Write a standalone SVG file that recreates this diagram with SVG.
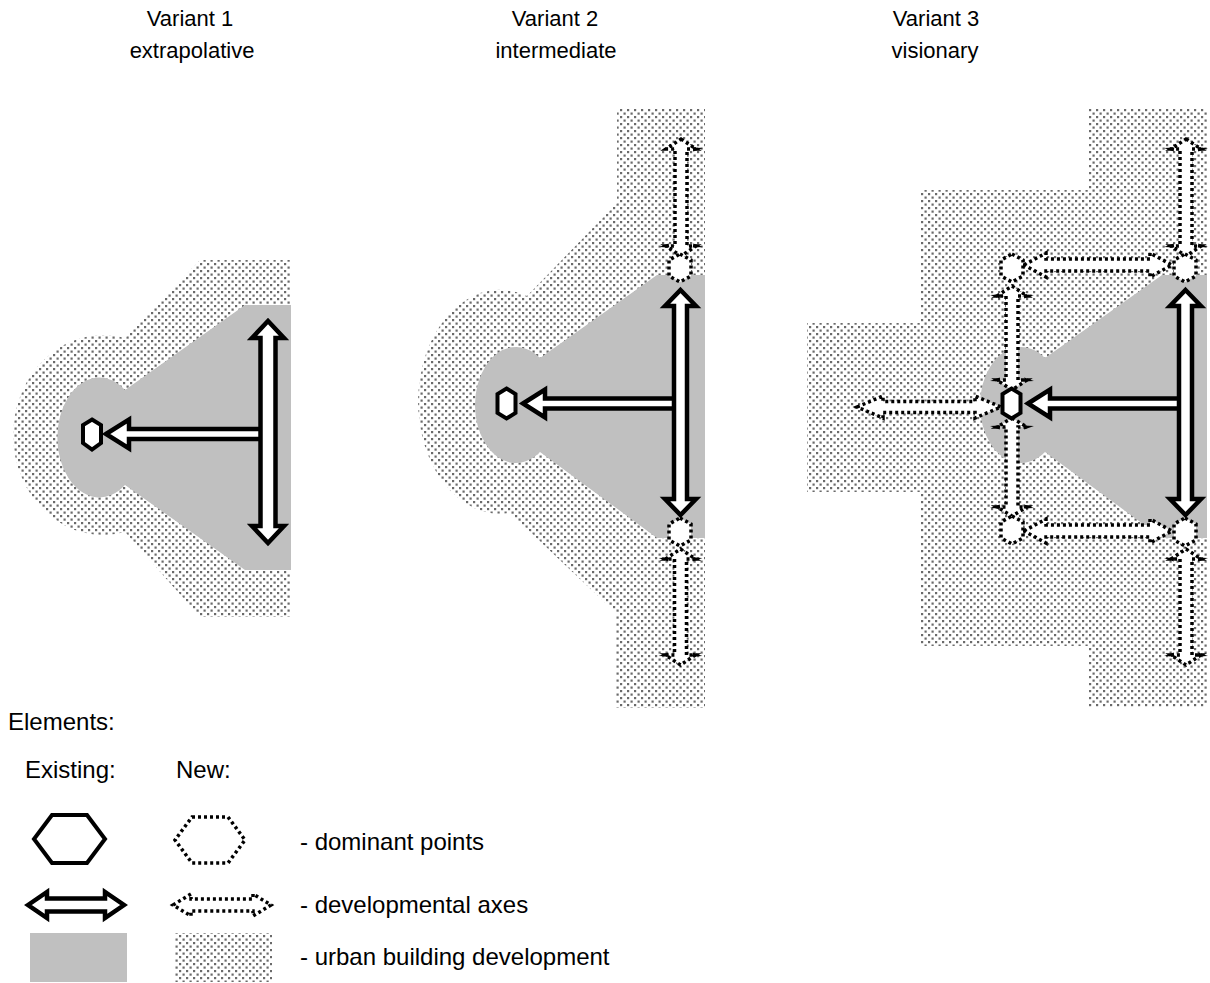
<svg xmlns="http://www.w3.org/2000/svg" xmlns:xlink="http://www.w3.org/1999/xlink" width="1210" height="983" viewBox="0 0 1210 983">
  <style>
    text { font-family: "Liberation Sans", Arial, sans-serif; font-size: 24px; fill: #000; }
    .title { font-size: 22px; text-anchor: middle; }
    .built { fill: #c0c0c0; }
    .planned { fill: url(#stipple); }
    .solid { fill: #fff; stroke: #000; stroke-width: 4.5; stroke-linejoin: miter; stroke-miterlimit: 10; }
    .hex { fill: #fff; stroke: #000; stroke-width: 4; stroke-linejoin: miter; }
    .dotted { fill: #fff; stroke: #000; stroke-width: 3.5; stroke-dasharray: 3 3; }
  </style>
  <defs>
    <!-- fine grey dot screen for planned building areas -->
    <pattern id="stipple" patternUnits="userSpaceOnUse" width="7" height="7">
      <rect x="0.5" y="0.5" width="2.2" height="2.2" fill="#6a6a6a"/>
      <rect x="4" y="4" width="2.2" height="2.2" fill="#6a6a6a"/>
    </pattern>
    <!-- spike at the corner of a dotted arrowhead -->
    <path id="barb" d="M-7,0 L3,-2 L3,2 Z" fill="#000"/>
  </defs>

  <rect width="1210" height="983" fill="#fff"/>

  <!-- headings -->
  <g id="titles">
    <text class="title" x="190" y="26">Variant 1</text>
    <text class="title" x="192" y="58">extrapolative</text>
    <text class="title" x="555" y="26">Variant 2</text>
    <text class="title" x="556" y="58">intermediate</text>
    <text class="title" x="936" y="26">Variant 3</text>
    <text class="title" x="935" y="58">visionary</text>
  </g>

  <!-- building areas -->
  <g id="areas">
    <path id="v1-new-area" class="planned" d="M291,260 L200,260 L125,338 A90,100 0 1 0 125,532 L200,617 L291,617 Z"/>
    <path id="v1-built" class="built" d="M291,305 L245,305 L125,390 A42,60 0 1 0 125,485 L245,570 L291,570 Z"/>
    <path id="v2-new-area" class="planned" d="M617,108 L705,108 L705,708 L616,708 L616,613 L510,513 A82,112 0 1 1 527,296 L617,203 Z"/>
    <path id="v2-built" class="built" d="M705,275 L657,275 L540,358 A41,58 0 1 0 540,452 L657,538 L705,538 Z"/>
    <path id="v3-new-area" class="planned" d="M1088,108 L1207,108 L1207,707 L1088,707 L1088,646 L921,646 L921,492 L807,492 L807,323 L921,323 L921,190 L1088,190 Z"/>
    <path id="v3-built" class="built" d="M1207,275 L1162,275 L1045,358 A41,58 0 1 0 1045,452 L1162,538 L1207,538 Z"/>
  </g>

  <!-- developmental axes -->
  <g id="connectors">
    <!-- new axes (dotted) -->
    <polygon class="dotted" points="681,139 696,149 687,149 687,246 696,246 681,256 666,246 675,246 675,149 666,149"/>
    <polygon class="dotted" points="680.5,549 695.5,559 686.5,559 686.5,655 695.5,655 680.5,665 665.5,655 674.5,655 674.5,559 665.5,559"/>
    <polygon class="dotted" points="1186,139 1201,149 1192,149 1192,246 1201,246 1186,256 1171,246 1180,246 1180,149 1171,149"/>
    <polygon class="dotted" points="1186,549 1201,559 1192,559 1192,655 1201,655 1186,665 1171,655 1180,655 1180,559 1171,559"/>
    <polygon class="dotted" points="1012,286 1027,296 1018,296 1018,380 1027,380 1012,390 997,380 1006,380 1006,296 997,296"/>
    <polygon class="dotted" points="1012,418 1027,427 1018,427 1018,507 1027,507 1012,516 997,507 1006,507 1006,427 997,427"/>
    <polygon class="dotted" points="1024,265 1046,253 1046,259 1150,259 1150,253 1172,265 1150,277 1150,271 1046,271 1046,277"/>
    <polygon class="dotted" points="1024,531 1046,519 1046,525 1150,525 1150,519 1172,531 1150,543 1150,537 1046,537 1046,543"/>
    <polygon class="dotted" points="857,407 883,396 883,401.5 975,401.5 975,396 1001,407 975,418 975,412.5 883,412.5 883,418"/>
    <!-- corner spikes of the dotted heads -->
    <g id="barbs">
      <use xlink:href="#barb" transform="translate(666,246) rotate(-8)"/>
      <use xlink:href="#barb" transform="translate(696,246) rotate(188)"/>
      <use xlink:href="#barb" transform="translate(696,149) rotate(172)"/>
      <use xlink:href="#barb" transform="translate(665.5,559) rotate(8)"/>
      <use xlink:href="#barb" transform="translate(695.5,559) rotate(172)"/>
      <use xlink:href="#barb" transform="translate(665.5,655) rotate(-8)"/>
      <use xlink:href="#barb" transform="translate(695.5,655) rotate(188)"/>
      <use xlink:href="#barb" transform="translate(1171,149) rotate(8)"/>
      <use xlink:href="#barb" transform="translate(1201,149) rotate(172)"/>
      <use xlink:href="#barb" transform="translate(1171,246) rotate(-8)"/>
      <use xlink:href="#barb" transform="translate(1201,246) rotate(188)"/>
      <use xlink:href="#barb" transform="translate(1171,559) rotate(8)"/>
      <use xlink:href="#barb" transform="translate(1201,559) rotate(172)"/>
      <use xlink:href="#barb" transform="translate(1171,655) rotate(-8)"/>
      <use xlink:href="#barb" transform="translate(1201,655) rotate(188)"/>
      <use xlink:href="#barb" transform="translate(997,296) rotate(8)"/>
      <use xlink:href="#barb" transform="translate(1027,296) rotate(172)"/>
      <use xlink:href="#barb" transform="translate(997,380) rotate(-8)"/>
      <use xlink:href="#barb" transform="translate(1027,380) rotate(188)"/>
      <use xlink:href="#barb" transform="translate(997,427) rotate(8)"/>
      <use xlink:href="#barb" transform="translate(1027,427) rotate(172)"/>
      <use xlink:href="#barb" transform="translate(997,507) rotate(-8)"/>
      <use xlink:href="#barb" transform="translate(1027,507) rotate(188)"/>
    </g>
    <!-- existing axes (solid) -->
    <polygon class="solid" points="106,434 129,419.5 129,429 262,429 262,439 129,439 129,448.5"/>
    <polygon class="solid" points="268,321 284,338 275.5,338 275.5,526 284,526 268,543 252,526 260.5,526 260.5,338 252,338"/>
    <polygon class="solid" points="523,403.5 545,389.5 545,398.5 676,398.5 676,408.5 545,408.5 545,417.5"/>
    <polygon class="solid" points="680.5,290 696,306 687,306 687,499 696,499 680.5,515 665,499 674,499 674,306 665,306"/>
    <polygon class="solid" points="1028,403.5 1050,389.5 1050,398.5 1181,398.5 1181,408.5 1050,408.5 1050,417.5"/>
    <polygon class="solid" points="1185.5,290 1201,306 1192,306 1192,499 1201,499 1185.5,515 1170,499 1179,499 1179,306 1170,306"/>
  </g>

  <!-- dominant points -->
  <g id="v1-point"><polygon class="hex" points="92,419.5 101,425 101,443 92,449.5 83,443 83,425"/></g>
  <g id="v2-point"><polygon class="hex" points="506.5,388.5 515.5,394 515.5,413 506.5,418.5 497.5,413 497.5,394"/></g>
  <g id="v3-point"><polygon class="hex" points="1011.5,388.5 1020.5,394 1020.5,413 1011.5,418.5 1002.5,413 1002.5,394"/></g>
  <g id="v2-new-point-n"><polygon class="dotted" points="680,254 691,260 691,276 680,282 669,276 669,260"/></g>
  <g id="v2-new-point-s"><polygon class="dotted" points="680,518 691,524 691,540 680,546 669,540 669,524"/></g>
  <g id="v3-new-point-ne"><polygon class="dotted" points="1185,254 1196,260 1196,276 1185,282 1174,276 1174,260"/></g>
  <g id="v3-new-point-nw"><polygon class="dotted" points="1012,254 1023,260 1023,276 1012,282 1001,276 1001,260"/></g>
  <g id="v3-new-point-sw"><polygon class="dotted" points="1012,516 1023,522 1023,538 1012,544 1001,538 1001,522"/></g>
  <g id="v3-new-point-se"><polygon class="dotted" points="1185,518 1196,524 1196,540 1185,546 1174,540 1174,524"/></g>

  <!-- key -->
  <g id="legend">
    <text x="8" y="730">Elements:</text>
    <text x="25" y="778">Existing:</text>
    <text x="176" y="778">New:</text>
    <polygon class="hex" points="52,815 87,815 105,839 87,863 52,863 34,839"/>
    <polygon class="dotted" points="192,817 228,817 245,840 228,863 192,863 175,840"/>
    <text x="300" y="850">- dominant points</text>
    <polygon class="solid" points="28,905 47,892 47,898.5 105,898.5 105,892 124,905 105,918 105,911.5 47,911.5 47,918"/>
    <polygon class="dotted" points="173,905 191,894 191,899 253,899 253,894 271,905 253,916 253,911 191,911 191,916"/>
    <text x="300" y="913">- developmental axes</text>
    <rect class="built" x="30" y="933" width="97" height="49"/>
    <rect class="planned" x="175" y="933" width="97" height="49"/>
    <text x="300" y="965">- urban building development</text>
  </g>
</svg>
